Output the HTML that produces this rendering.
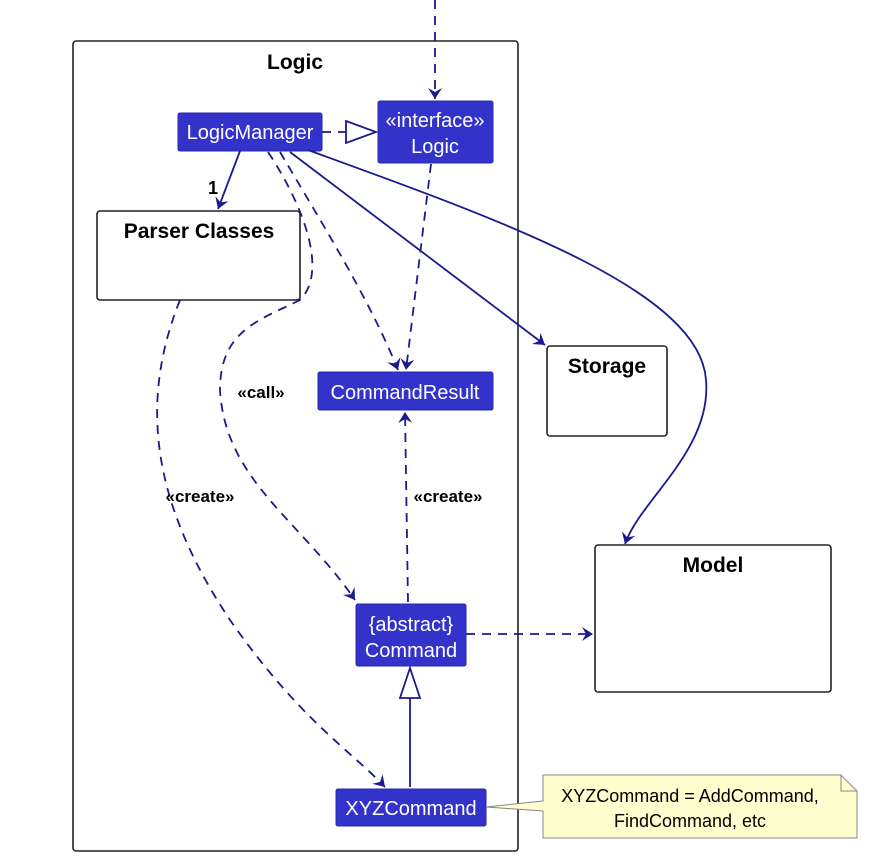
<!DOCTYPE html>
<html><head><style>
html,body{margin:0;padding:0;background:#fff;}
svg{display:block;}
text{font-family:"Liberation Sans",sans-serif;}
</style></head><body>
<svg width="887" height="860" viewBox="0 0 887 860">
<defs>
<marker id="a" markerWidth="14" markerHeight="14" refX="11" refY="7" orient="auto" markerUnits="userSpaceOnUse">
<path d="M0,0 L11,7 L0,14 L4,7 Z" fill="#1a1a8c"/>
</marker>
</defs>
<g fill="none" stroke="#222" stroke-width="1.6">
<rect x="73" y="41" width="445" height="810" rx="3"/>
<rect x="97" y="211" width="203" height="89" rx="3"/>
<rect x="547" y="346" width="120" height="90" rx="3"/>
<rect x="595" y="545" width="236" height="147" rx="3"/>
</g>
<text x="295" y="69" font-size="21" font-weight="bold" text-anchor="middle">Logic</text>
<text x="199" y="238" font-size="21" font-weight="bold" text-anchor="middle">Parser Classes</text>
<text x="607" y="373" font-size="21" font-weight="bold" text-anchor="middle">Storage</text>
<text x="713" y="572" font-size="21" font-weight="bold" text-anchor="middle">Model</text>

<g fill="#3333cc" stroke="#2a2aa8">
<rect x="178" y="113" width="144" height="38" rx="2"/>
<rect x="378" y="101" width="115" height="62" rx="2"/>
<rect x="318" y="372" width="175" height="38" rx="2"/>
<rect x="356" y="604" width="110" height="62" rx="2"/>
<rect x="336" y="789" width="150" height="37" rx="2"/>
</g>
<g fill="#fff" font-size="20" text-anchor="middle">
<text x="250" y="139">LogicManager</text>
<text x="435" y="127">«interface»</text>
<text x="435" y="153">Logic</text>
<text x="405" y="399">CommandResult</text>
<text x="411" y="631">{abstract}</text>
<text x="411" y="657">Command</text>
<text x="411" y="815">XYZCommand</text>
</g>

<g fill="none" stroke="#1a1a8c" stroke-width="1.8">
<path d="M435,0 L435,99" stroke-dasharray="9,7" marker-end="url(#a)"/>
<path d="M322,132 L346,132" stroke-dasharray="9,7"/>
<path d="M346,121 L376,132 L346,143 Z" fill="#fff"/>
<path d="M240,151 L218,209" marker-end="url(#a)"/>
<path d="M280,152 C320,220 370,300 398,370" stroke-dasharray="9,7" marker-end="url(#a)"/>
<path d="M431,164 L406,370" stroke-dasharray="9,7" marker-end="url(#a)"/>
<path d="M268,152 C300,200 330,270 300,300 C260,320 220,330 220,390 C225,480 300,520 355,600" stroke-dasharray="9,7" marker-end="url(#a)"/>
<path d="M290,152 L545,345" marker-end="url(#a)"/>
<path d="M308,150 C500,220 700,290 706,380 C712,450 640,500 625,544" marker-end="url(#a)"/>
<path d="M180,300 C140,400 150,500 230,620 C300,720 350,750 385,787" stroke-dasharray="9,7" marker-end="url(#a)"/>
<path d="M408,602 L405,412" stroke-dasharray="9,7" marker-end="url(#a)"/>
<path d="M466,634 L593,634" stroke-dasharray="9,7" marker-end="url(#a)"/>
<path d="M410,787 L410,698"/>
<path d="M400,698 L410,668 L420,698 Z" fill="#fff"/>
</g>
<text x="213" y="194" font-size="18" font-weight="bold" text-anchor="middle">1</text>
<text x="261" y="398" font-size="17" font-weight="bold" text-anchor="middle">«call»</text>
<text x="200" y="502" font-size="17" font-weight="bold" text-anchor="middle">«create»</text>
<text x="448" y="502" font-size="17" font-weight="bold" text-anchor="middle">«create»</text>

<path d="M543,775 L841,775 L857,791 L857,838 L543,838 L543,811 L486,807 L543,801 Z" fill="#fefece" stroke="#888" stroke-width="1"/>
<path d="M841,775 L841,791 L857,791" fill="none" stroke="#888" stroke-width="1"/>
<text x="690" y="802" font-size="18" text-anchor="middle">XYZCommand = AddCommand,</text>
<text x="690" y="827" font-size="18" text-anchor="middle">FindCommand, etc</text>
</svg>
</body></html>
